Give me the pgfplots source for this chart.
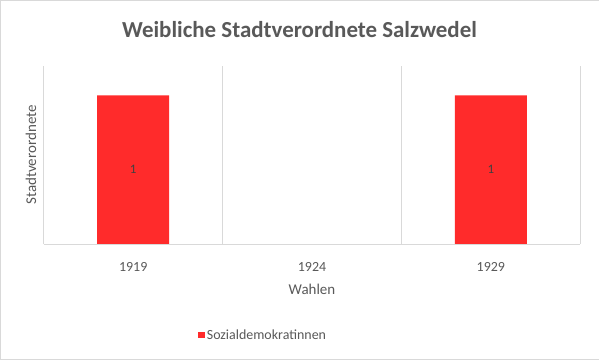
\documentclass[border=0pt]{standalone}
\usepackage{pgfplots}
\pgfplotsset{compat=1.18}
\usepackage{fontspec}
\setmainfont{Carlito}
\definecolor{txt}{HTML}{595959}
\definecolor{grid}{HTML}{D9D9D9}
\definecolor{barred}{HTML}{FF2B2B}
\begin{document}
\begin{tikzpicture}[x=1bp,y=1bp]
\draw[draw=grid, fill=white] (0.5,0.5) rectangle (598.5,359.5);
\node[text=txt, font=\bfseries\fontsize{23}{27}\selectfont] at (299.5,330) {Weibliche Stadtverordnete Salzwedel};
\begin{axis}[
  at={(44bp,116bp)}, anchor=south west,
  scale only axis, width=536bp, height=178bp,
  xmin=-0.5, xmax=2.5, ymin=0, ymax=1.2,
  xtick={0,1,2}, xticklabels={1919,1924,1929},
  minor xtick={-0.5,0.5,1.5,2.5},
  xminorgrids, minor grid style={draw=grid, line width=0.8pt},
  ytick=\empty,
  axis line style={draw=grid, line width=0.8pt},
  axis x line*=bottom, axis y line*=left,
  tick style={draw=none},
  x tick label style={text=txt, font=\fontsize{14}{16}\selectfont},
  xticklabel shift=15pt,
  xlabel={Wahlen}, ylabel={Stadtverordnete},
  xlabel style={text=txt, font=\fontsize{15}{17}\selectfont, yshift=-6pt},
  ylabel style={text=txt, font=\fontsize{15}{17}\selectfont, yshift=4pt},
  legend style={at={(0.4086,-0.511)}, anchor=center, draw=none, fill=none,
    font=\fontsize{14}{16}\selectfont, text=txt, legend cell align=left},
  legend image code/.code={\fill[barred] (0pt,-3.5pt) rectangle (7pt,3.5pt);},
  clip=false,
]
\addplot[ybar, bar width=72bp, fill=barred, draw=none] coordinates {(0,1) (2,1)};
\addlegendentry{Sozialdemokratinnen}
\addplot[draw=none, mark=none, nodes near coords, point meta=explicit symbolic,
  every node near coord/.style={anchor=center, text=black!75, font=\fontsize{13}{15}\selectfont}, forget plot]
  coordinates {(0,0.5)[1] (2,0.5)[1]};
\end{axis}
\end{tikzpicture}
\end{document}
